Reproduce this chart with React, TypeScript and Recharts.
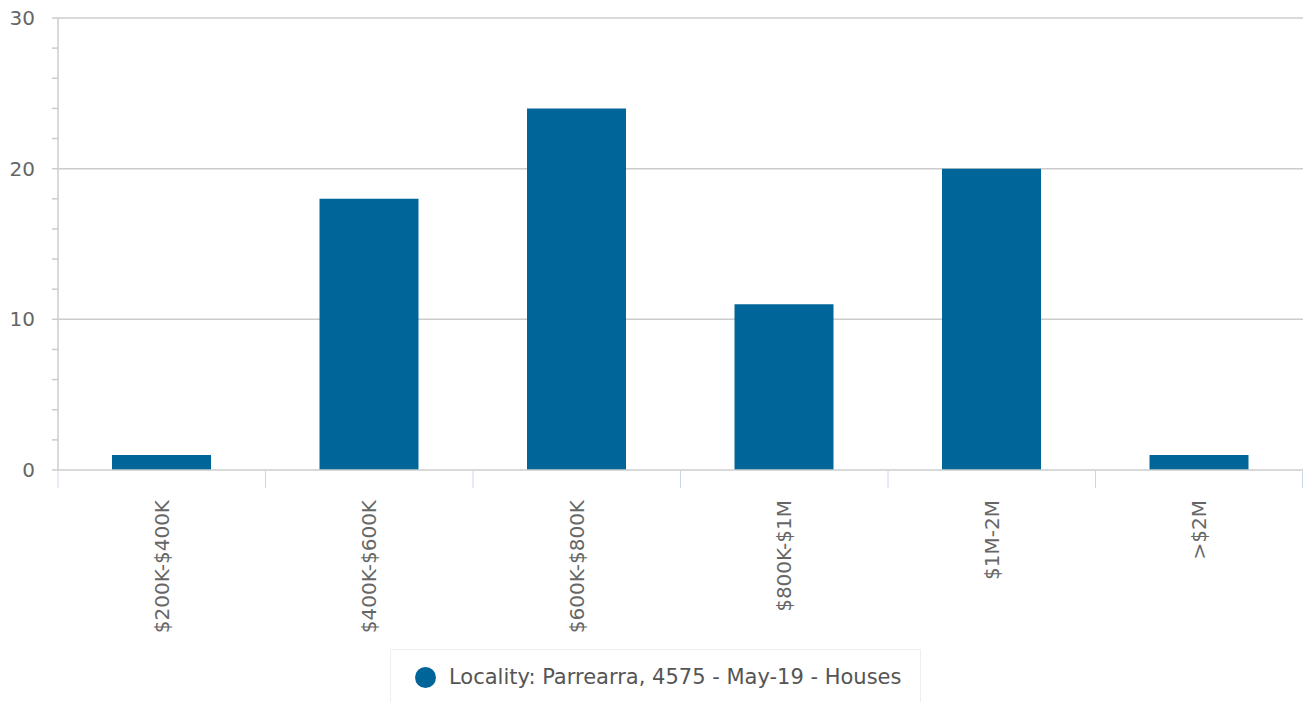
import React from "react";
import { BarChart, Bar, XAxis, YAxis, CartesianGrid, Legend } from "recharts";

const categories = ["$200K-$400K", "$400K-$600K", "$600K-$800K", "$800K-$1M", "$1M-2M", ">$2M"];
const counts = [1, 18, 24, 11, 20, 1];
const yTicks = [0, 2, 4, 6, 8, 10, 12, 14, 16, 18, 20, 22, 24, 26, 28, 30];
const gridValues = [10, 20, 30];
const seriesName = "Locality: Parrearra, 4575 - May-19 - Houses";

const data = categories.map((c, i) => ({ name: c, value: counts[i] }));

const FONT = "'DejaVu Sans', sans-serif";
const BAR_COLOR = "#006699";

const XTick = (props: any) => {
  const { x, y, payload, index, visibleTicksCount } = props;
  const half = payload && payload.offset ? payload.offset : 103.75;
  const isLast = index === (visibleTicksCount ?? categories.length) - 1;
  return (
    <g>
      <line x1={x - half} x2={x - half} y1={y} y2={y + 18} stroke="#ccd6eb" strokeWidth={1} />
      {isLast && (
        <line x1={x + half - 0.5} x2={x + half - 0.5} y1={y} y2={y + 18} stroke="#ccd6eb" strokeWidth={1} />
      )}
      <text
        transform={`translate(${x + 7},${y + 30}) rotate(-90)`}
        textAnchor="end"
        fill="#666666"
        fontSize={20}
        fontFamily={FONT}
      >
        {payload.value}
      </text>
    </g>
  );
};

const YTick = (props: any) => {
  const { x, y, payload } = props;
  if (payload.value % 10 !== 0) return null;
  return (
    <text x={x} y={y} dy={7} textAnchor="end" fill="#666666" fontSize={20} fontFamily={FONT}>
      {payload.value}
    </text>
  );
};

const LegendContent = () => (
  <div
    style={{
      position: "absolute",
      left: 390,
      top: 649,
      width: 531,
      height: 60,
      border: "1px solid #eeeeee",
      boxSizing: "border-box",
      background: "#fff",
      fontFamily: FONT,
    }}
  >
    <div style={{ position: "absolute", left: 24, top: 17, width: 21, height: 21, borderRadius: "50%", background: BAR_COLOR }} />
    <div style={{ position: "absolute", left: 58, top: 15, fontSize: 21, color: "#555555", whiteSpace: "nowrap", lineHeight: "24px" }}>
      {seriesName}
    </div>
  </div>
);

export default function App() {
  return (
    <div style={{ position: "absolute", left: 0, top: 0, width: 1303, height: 702, background: "#fff", overflow: "hidden" }}>
      <BarChart
        width={1303}
        height={702}
        data={data}
        margin={{ top: 18, right: 0, left: 0, bottom: 72 }}
        barCategoryGap="0%"
      >
        <CartesianGrid
          vertical={false}
          stroke="#cccccc"
          strokeWidth={1.5}
          horizontalValues={gridValues}
        />
        <XAxis
          dataKey="name"
          type="category"
          height={160}
          interval={0}
          axisLine={{ stroke: "#cccccc", strokeWidth: 1.5 }}
          tickLine={false}
          tickSize={0}
          tickMargin={0}
          tick={<XTick />}
        />
        <YAxis
          type="number"
          domain={[0, 30]}
          ticks={yTicks}
          interval={0}
          width={58}
          axisLine={{ stroke: "#cccccc", strokeWidth: 1.5 }}
          tickLine={{ stroke: "#cccccc", strokeWidth: 1.5 }}
          tickSize={6}
          tickMargin={17}
          tick={<YTick />}
        />
        <Bar dataKey="value" name={seriesName} fill={BAR_COLOR} barSize={99} isAnimationActive={false} />
        <Legend content={<LegendContent />} wrapperStyle={{ position: "absolute", left: 0, top: 0, width: 0, height: 0 }} />
      </BarChart>
    </div>
  );
}
